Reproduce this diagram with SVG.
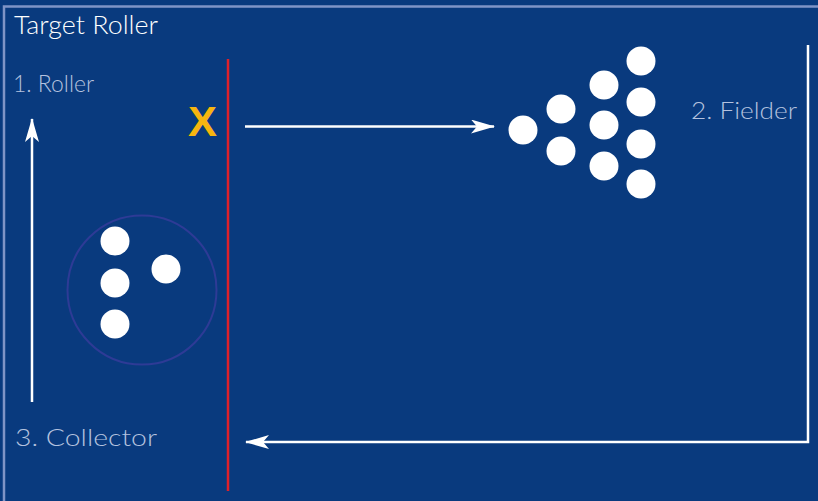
<svg xmlns="http://www.w3.org/2000/svg" width="818" height="501" viewBox="0 0 818 501">
<style>
.ball{fill:#ffffff}
.lbl{font-family:"Lato","Liberation Sans",sans-serif;font-weight:300;font-size:24px;fill:#b4c2df}
.ln{stroke:#ffffff;stroke-width:2.5;fill:none}
</style>
<defs>
<marker id="ah2" viewBox="0 0 24 14" refX="23" refY="7" markerWidth="24" markerHeight="14" markerUnits="userSpaceOnUse" orient="auto">
<path d="M0,0 L24,7 L0,14 L6,7 Z" fill="#ffffff"/>
</marker>
</defs>
<rect x="0" y="0" width="818" height="501" fill="#093a7e"/>
<rect x="4" y="6.5" width="830" height="520" fill="none" stroke="#7f94c6" stroke-width="2.5"/>
<text x="14" y="34" font-family="Lato,'Liberation Sans',sans-serif" font-weight="300" font-size="26" fill="#ffffff" textLength="144" lengthAdjust="spacingAndGlyphs">Target Roller</text>
<g id="roller"><text class="lbl" x="13" y="92" textLength="81" lengthAdjust="spacingAndGlyphs">1. Roller</text></g>
<g id="fielder"><text class="lbl" x="691" y="119" textLength="106" lengthAdjust="spacingAndGlyphs">2. Fielder</text></g>
<g id="collector"><text class="lbl" x="15" y="446" textLength="142" lengthAdjust="spacingAndGlyphs">3. Collector</text></g>
<g id="foul-line"><line x1="228" y1="59" x2="228" y2="491" stroke="#e0202a" stroke-width="2.5"/>
<text x="188" y="136" font-family="'Liberation Sans',sans-serif" font-weight="bold" font-size="42" fill="#f7b50f" textLength="29" lengthAdjust="spacingAndGlyphs">X</text></g>
<g id="connectors">
<line class="ln" x1="245" y1="126.5" x2="494" y2="126.5" marker-end="url(#ah2)"/>
<path class="ln" d="M808,45 V442 H246" marker-end="url(#ah2)"/>
<line class="ln" x1="32" y1="402" x2="32" y2="119" marker-end="url(#ah2)"/>
</g>
<g id="fielder-balls">
<circle class="ball" cx="523" cy="130" r="14.5"/>
<circle class="ball" cx="561" cy="109" r="14.5"/>
<circle class="ball" cx="561" cy="151" r="14.5"/>
<circle class="ball" cx="604" cy="85" r="14.5"/>
<circle class="ball" cx="604" cy="125" r="14.5"/>
<circle class="ball" cx="604" cy="166" r="14.5"/>
<circle class="ball" cx="641" cy="61" r="14.5"/>
<circle class="ball" cx="641" cy="102" r="14.5"/>
<circle class="ball" cx="641" cy="144" r="14.5"/>
<circle class="ball" cx="641" cy="184" r="14.5"/>
</g>
<g id="target">
<circle cx="142" cy="290" r="74.5" fill="none" stroke="#2e3b96" stroke-width="2"/>
<circle class="ball" cx="115" cy="241" r="14.5"/>
<circle class="ball" cx="115" cy="283" r="14.5"/>
<circle class="ball" cx="115" cy="324" r="14.5"/>
<circle class="ball" cx="166" cy="269" r="14.5"/>
</g>
</svg>
